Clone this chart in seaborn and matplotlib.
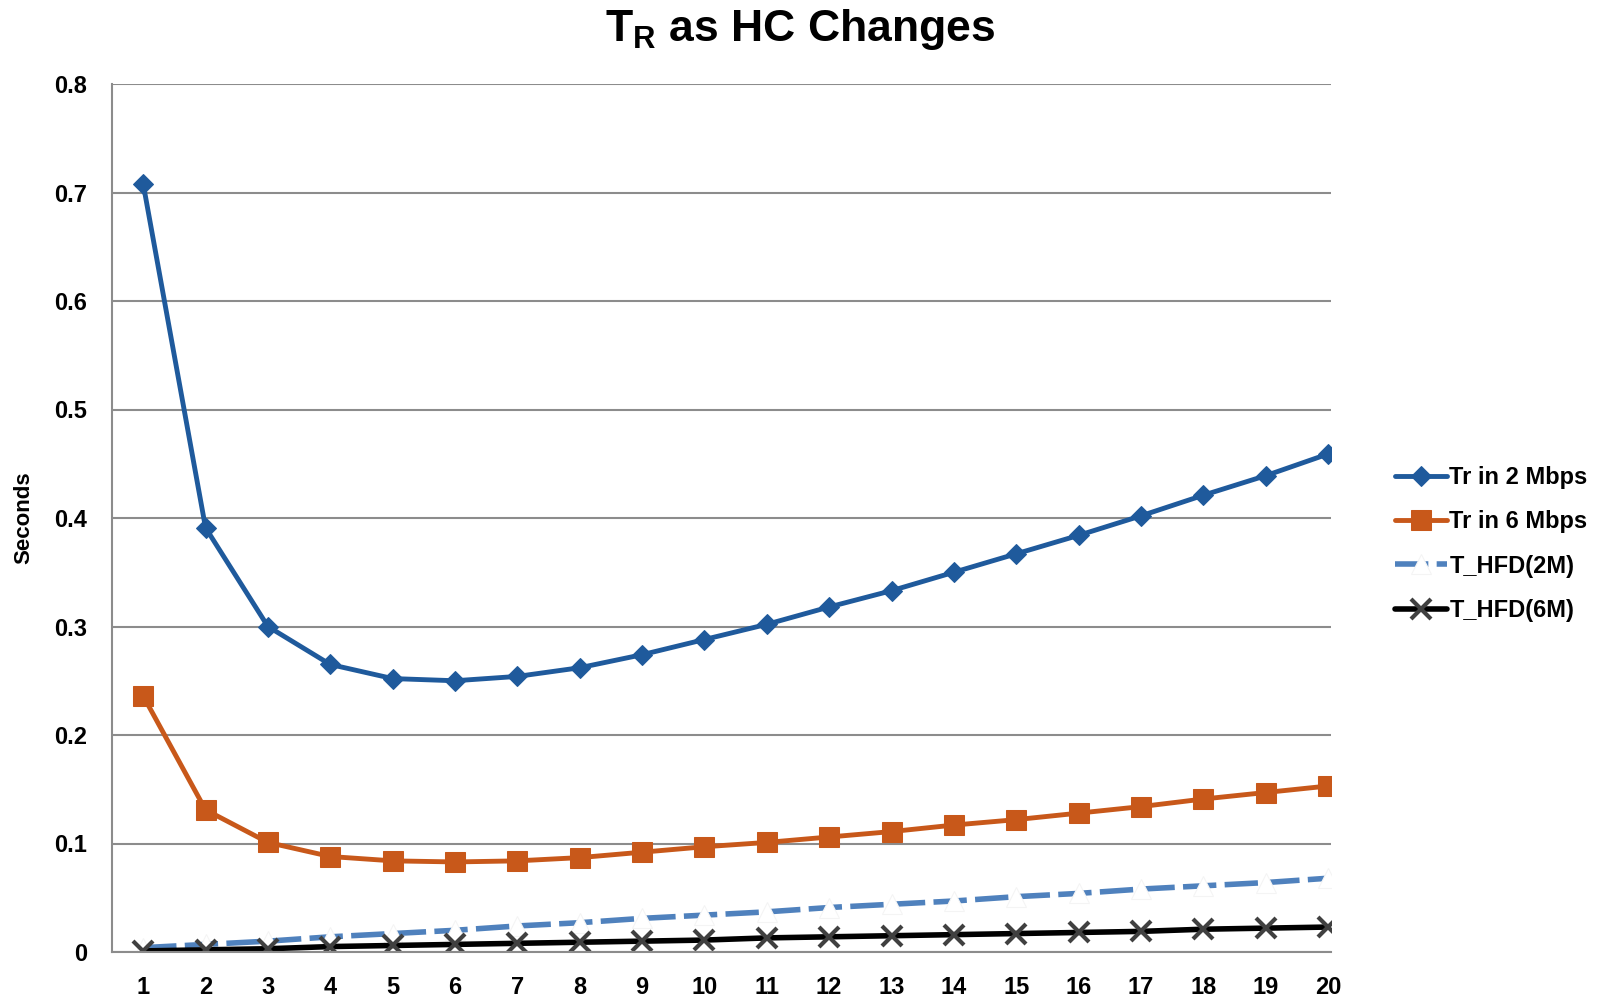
import numpy as np
import pandas as pd
import seaborn as sns
import matplotlib.pyplot as plt

# hop count on the x axis
hc = list(range(1, 21))

tr_2mbps = [0.708, 0.391, 0.300, 0.265, 0.252, 0.250, 0.254, 0.262, 0.274, 0.288,
            0.302, 0.318, 0.333, 0.350, 0.367, 0.384, 0.402, 0.421, 0.439, 0.459]
tr_6mbps = [0.236, 0.131, 0.101, 0.088, 0.084, 0.083, 0.084, 0.087, 0.092, 0.097,
            0.101, 0.106, 0.111, 0.117, 0.122, 0.128, 0.134, 0.141, 0.147, 0.153]
t_hfd_2m = [0.004, 0.007, 0.010, 0.014, 0.017, 0.020, 0.024, 0.027, 0.031, 0.034,
            0.037, 0.041, 0.044, 0.047, 0.051, 0.054, 0.058, 0.061, 0.064, 0.068]
t_hfd_6m = [0.001, 0.002, 0.003, 0.005, 0.006, 0.007, 0.008, 0.009, 0.010, 0.011,
            0.013, 0.014, 0.015, 0.016, 0.017, 0.018, 0.019, 0.021, 0.022, 0.023]

series_names = ['Tr in 2 Mbps', 'Tr in 6 Mbps', 'T_HFD(2M)', 'T_HFD(6M)']
y_ticks = [0, 0.1, 0.2, 0.3, 0.4, 0.5, 0.6, 0.7, 0.8]

sns.set_style('white')
plt.rcParams['font.family'] = ['Liberation Sans', 'DejaVu Sans']
plt.rcParams['font.weight'] = 'bold'
plt.rcParams['text.color'] = 'black'
plt.rcParams['xtick.color'] = 'black'
plt.rcParams['ytick.color'] = 'black'
plt.rcParams['axes.labelcolor'] = 'black'

df = pd.DataFrame({'HC': hc, series_names[0]: tr_2mbps, series_names[1]: tr_6mbps,
                   series_names[2]: t_hfd_2m, series_names[3]: t_hfd_6m})
long = df.melt(id_vars='HC', var_name='series', value_name='Seconds')

fig = plt.figure(figsize=(16, 10), dpi=100)
ax = fig.add_axes([0.070, 0.048, 0.762, 0.868])

styles = {
    'Tr in 2 Mbps': dict(color='#1F5A9C', marker='D', markersize=10, lw=3.5,
                         markeredgecolor='#1F5A9C', ls='-'),
    'Tr in 6 Mbps': dict(color='#C8581A', marker='s', markersize=14, lw=3.5,
                         markeredgecolor='#C8581A', ls='-'),
    'T_HFD(2M)': dict(color='#4F81BD', marker='^', markersize=14, lw=4,
                      markerfacecolor='white', markeredgecolor='#F4F4F4',
                      ls=(0, (6, 1.5))),
    'T_HFD(6M)': dict(color='black', marker='x', markersize=14, lw=4,
                      markeredgecolor='#404040', markeredgewidth=3, ls='-'),
}

for name in series_names:
    sub = long[long['series'] == name]
    st = dict(styles[name])
    ls = st.pop('ls')
    sns.lineplot(data=sub, x='HC', y='Seconds', ax=ax, label=name,
                 linestyle=ls, **st)

ax.set_xlim(0.5, 20.05)
ax.set_ylim(0, 0.8)
ax.set_xticks(hc)
ax.set_yticks(y_ticks)
ax.set_yticklabels(['0' if v == 0 else f'{v:.1f}' for v in y_ticks])
ax.tick_params(axis='both', length=0, labelsize=17)
ax.tick_params(axis='x', pad=17)
ax.tick_params(axis='y', pad=18)
for lab in ax.get_xticklabels() + ax.get_yticklabels():
    lab.set_fontweight('bold')

ax.yaxis.grid(True, color='#8C8C8C', lw=1.5)
ax.set_axisbelow(True)
for side in ['top', 'right']:
    ax.spines[side].set_visible(False)
ax.spines['left'].set_color('#8C8C8C')
ax.spines['left'].set_linewidth(1.5)
ax.spines['bottom'].set_color('#8C8C8C')
ax.spines['bottom'].set_linewidth(1.5)

ax.set_xlabel('')
ax.set_ylabel('Seconds', fontsize=16, fontweight='bold', labelpad=14)
fig.suptitle(r'T$_\mathregular{R}$ as HC Changes', fontsize=32, fontweight='heavy', y=0.993)

leg = ax.legend(loc='center left', bbox_to_anchor=(1.035, 0.47), frameon=False,
                fontsize=17, handlelength=2.2, handletextpad=0.1, labelspacing=0.9)
for t in leg.get_texts():
    t.set_fontweight('bold')

fig.savefig('out.png', dpi=100)
